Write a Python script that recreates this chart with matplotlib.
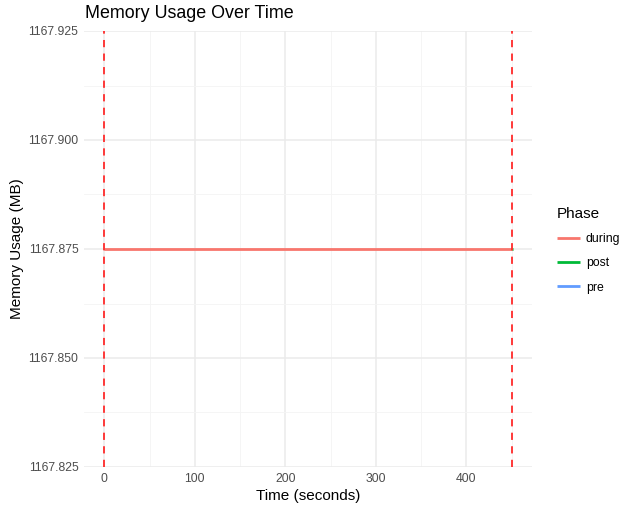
#!/usr/bin/env python3

import matplotlib
matplotlib.use('Agg')
import matplotlib.pyplot as plt
from matplotlib.ticker import MultipleLocator, FormatStrFormatter

# data
during_time = [0, 450]
during_mem = [1167.875, 1167.875]
post_time = [450, 451.5]
post_mem = [1167.875, 1167.875]
pre_time = []
pre_mem = []
phase_bounds = [0, 450]

phases = ['during', 'post', 'pre']
colors = {'during': '#F8766D', 'post': '#00BA38', 'pre': '#619CFF'}

plt.rcParams['font.family'] = ['Liberation Sans', 'DejaVu Sans']

fig = plt.figure(figsize=(6.35, 5.12), dpi=100)
ax = fig.add_axes([84/635, 1 - 467/512, (532-84)/635, (467-31)/512])

series = {'during': (during_time, during_mem),
          'post': (post_time, post_mem),
          'pre': (pre_time, pre_mem)}
for p in phases:
    t, m = series[p]
    ax.plot(t, m, color=colors[p], linewidth=2.0, label=p, zorder=3,
            solid_capstyle='butt')

for b in phase_bounds:
    ax.axvline(b, color='#FF2A2A', linewidth=1.3, linestyle=(0, (4, 3.5)), zorder=4)

ax.set_xlim(-22.5, 472.5)
ax.set_ylim(1167.825, 1167.925)

ax.xaxis.set_major_locator(MultipleLocator(100))
ax.xaxis.set_minor_locator(MultipleLocator(50))
ax.yaxis.set_major_locator(MultipleLocator(0.025))
ax.yaxis.set_minor_locator(MultipleLocator(0.0125))
ax.yaxis.set_major_formatter(FormatStrFormatter('%.3f'))

ax.grid(which='major', color='#EBEBEB', linewidth=1.1, zorder=0)
ax.grid(which='minor', color='#F4F4F4', linewidth=0.6, zorder=0)
ax.set_axisbelow(True)
for s in ax.spines.values():
    s.set_visible(False)
ax.tick_params(which='both', length=0, labelsize=8.8, labelcolor='#4D4D4D', pad=4)

ax.set_xlabel('Time (seconds)', fontsize=11, labelpad=3)
ax.set_ylabel('Memory Usage (MB)', fontsize=11, labelpad=3)
fig.text(85/635, 1 - 14/512, 'Memory Usage Over Time', fontsize=12.9,
         ha='left', va='center')

leg = ax.legend(title='Phase', loc='center left', bbox_to_anchor=(1.045, 0.497),
                frameon=False, fontsize=8.8, title_fontsize=11,
                handlelength=1.9, handletextpad=0.45, labelspacing=1.0,
                borderaxespad=0)
leg._legend_box.align = 'left'

fig.savefig('out.png', dpi=100)
